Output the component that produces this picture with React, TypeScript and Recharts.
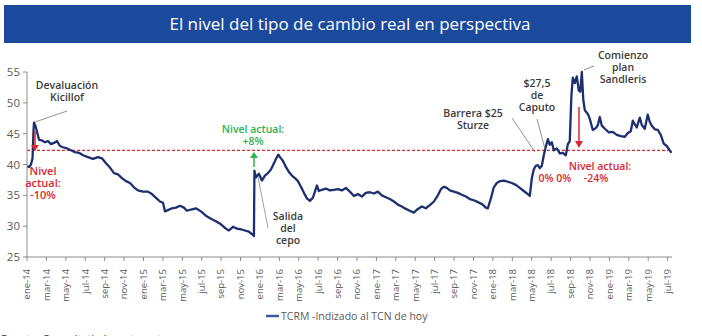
import React from "react";
import { LineChart, Line, XAxis, YAxis, ReferenceLine } from "recharts";

// months since ene-14
const monthT = [
  0.0, 0.21, 0.41, 0.57, 0.67, 0.72, 0.88, 1.03, 1.24, 1.54, 1.85, 2.16, 2.47, 2.78, 3.09, 3.4, 3.71, 4.12, 4.53, 4.94,
  5.36, 5.77, 6.28, 6.8, 7.31, 7.72, 8.14, 8.55, 8.96, 9.37, 9.78, 10.2, 10.61, 11.02, 11.43, 11.95, 12.46, 12.87, 13.29, 13.7,
  14.01, 14.21, 14.52, 14.93, 15.35, 15.76, 16.17, 16.48, 16.89, 17.4, 17.92, 18.43, 18.95, 19.46, 19.98, 20.49, 20.8, 21.22, 21.63, 22.04,
  22.45, 22.86, 23.28, 23.38, 23.43, 23.58, 23.89, 24.2, 24.51, 24.82, 25.13, 25.44, 25.75, 25.9, 26.06, 26.36, 26.67, 26.98, 27.29, 27.6,
  27.91, 28.22, 28.53, 28.84, 29.15, 29.45, 29.66, 29.87, 30.07, 30.38, 30.79, 31.2, 31.62, 32.03, 32.44, 32.85, 33.26, 33.68, 34.09, 34.5,
  34.91, 35.32, 35.74, 36.15, 36.56, 36.97, 37.38, 37.8, 38.21, 38.62, 39.03, 39.44, 39.86, 40.27, 40.68, 41.09, 41.5, 41.92, 42.33, 42.64,
  42.95, 43.25, 43.56, 43.98, 44.39, 44.8, 45.21, 45.62, 46.04, 46.45, 46.86, 47.27, 47.48, 47.79, 48.09, 48.4, 48.71, 49.13, 49.54, 49.95,
  50.36, 50.77, 51.18, 51.6, 51.8, 52.01, 52.21, 52.42, 52.63, 52.83, 53.04, 53.24, 53.45, 53.66, 53.86, 54.07, 54.27, 54.58, 54.89, 55.2,
  55.51, 55.72, 55.92, 56.08, 56.23, 56.44, 56.64, 56.85, 57.0, 57.16, 57.31, 57.47, 57.78, 57.98, 58.29, 58.6, 58.81, 59.01, 59.22, 59.53,
  59.94, 60.35, 60.76, 61.17, 61.59, 61.9, 62.2, 62.41, 62.62, 62.82, 63.13, 63.34, 63.65, 63.95, 64.16, 64.37, 64.68, 64.98, 65.29, 65.6,
  65.91, 66.22, 66.4,
];

// TCRM - indizado al TCN de hoy
const tcrm = [
  39.7, 39.6, 40.0, 41.0, 45.5, 46.8, 46.2, 45.3, 44.0, 43.9, 43.6, 43.8, 43.3, 43.5, 43.8, 43.0, 42.8, 42.6, 42.3, 42.0,
  41.9, 41.5, 41.2, 40.9, 41.2, 41.0, 40.2, 39.5, 38.6, 38.4, 37.8, 37.3, 37.0, 36.3, 35.8, 35.6, 35.6, 35.2, 34.6, 34.0,
  33.8, 32.4, 32.6, 32.9, 33.0, 33.3, 33.0, 32.5, 32.7, 32.9, 32.4, 31.7, 31.2, 30.8, 30.3, 29.6, 29.3, 29.9, 29.6, 29.5,
  29.3, 29.1, 28.6, 28.4, 39.0, 37.9, 38.5, 37.4, 38.2, 38.6, 39.2, 40.2, 41.2, 41.6, 41.2, 40.6, 39.6, 38.8, 38.2, 37.8,
  37.3, 36.4, 35.4, 34.5, 34.1, 34.6, 35.6, 36.6, 35.7, 35.9, 36.1, 35.8, 35.9, 36.0, 35.8, 36.2, 35.6, 34.9, 35.2, 34.8,
  35.4, 35.5, 35.3, 35.6, 35.0, 34.7, 34.4, 34.0, 33.5, 33.2, 32.8, 32.5, 32.2, 32.8, 33.2, 32.9, 33.4, 34.0, 35.0, 36.0,
  36.4, 36.2, 35.8, 35.6, 35.4, 35.1, 34.8, 34.4, 34.2, 33.9, 33.6, 33.0, 32.9, 34.5, 36.3, 37.0, 37.3, 37.4, 37.2, 37.0,
  36.7, 36.2, 35.7, 35.2, 34.9, 37.8, 39.2, 39.8, 39.9, 39.4, 39.8, 41.5, 42.9, 44.1, 43.2, 43.6, 42.3, 42.6, 41.8, 41.9,
  41.5, 43.3, 43.8, 51.0, 54.1, 53.2, 54.3, 52.0, 51.8, 55.0, 50.5, 48.8, 48.2, 47.4, 45.6, 45.9, 46.4, 47.7, 46.3, 45.8,
  45.2, 45.3, 44.8, 44.6, 44.5, 45.1, 45.4, 47.1, 46.5, 46.0, 47.6, 46.4, 45.8, 48.1, 46.9, 46.3, 45.7, 45.6, 44.8, 43.4,
  43.0, 42.3, 41.9,
];

const tickLabels = [
  "ene-14", "mar-14", "may-14", "jul-14", "sep-14", "nov-14",
  "ene-15", "mar-15", "may-15", "jul-15", "sep-15", "nov-15",
  "ene-16", "mar-16", "may-16", "jul-16", "sep-16", "nov-16",
  "ene-17", "mar-17", "may-17", "jul-17", "sep-17", "nov-17",
  "ene-18", "mar-18", "may-18", "jul-18", "sep-18", "nov-18",
  "ene-19", "mar-19", "may-19", "jul-19",
];
const yTicks = [25, 30, 35, 40, 45, 50, 55];
const nivelActual = 42.3;

const data = monthT.map((t, i) => ({ t, v: tcrm[i] }));
const tickPos = tickLabels.map((_, i) => i * 2);

const FONT = "'Open Sans', sans-serif";
const AXIS = "#8c8c8c";
const TXT = "#5a5a5a";
const NAVY = "#1e2f6f";
const RED = "#d9282f";
const GREEN = "#2eb34f";
const DARK = "#3c3c3c";

const RotTick = (props: any) => {
  const { x, y, payload } = props;
  const idx = Math.round(payload.value / 2);
  return (
    <g transform={`translate(${x},${y + 6}) rotate(-90)`}>
      <text x={0} y={0} dy="0.35em" textAnchor="end" fill={TXT} fontSize={9.5} fontFamily={FONT}>
        {tickLabels[idx]}
      </text>
    </g>
  );
};

const ML = ({ x, y, lines, color, size = 10.5 }: any) => (
  <text x={x} y={y} textAnchor="middle" fill={color} fontSize={size} fontWeight={600} fontFamily={FONT}>
    {lines.map((l: string, i: number) => (
      <tspan key={i} x={x} dy={i === 0 ? 0 : 12.2}>
        {l}
      </tspan>
    ))}
  </text>
);

export default function App() {
  return (
    <div style={{ position: "absolute", left: 0, top: 0, width: 702, height: 336, background: "#fff", overflow: "hidden" }}>
      <LineChart width={702} height={336} data={data} margin={{ top: 72, right: 30, left: 0, bottom: 29 }}>
        <XAxis
          dataKey="t"
          type="number"
          domain={[0, 66.45]}
          ticks={tickPos}
          interval={0}
          height={50}
          tick={<RotTick />}
          tickSize={4}
          tickLine={{ stroke: AXIS }}
          axisLine={{ stroke: AXIS }}
          allowDataOverflow
        />
        <YAxis
          domain={[25, 55]}
          ticks={yTicks}
          interval={0}
          width={27}
          tickSize={4}
          tickMargin={3}
          tick={{ fill: TXT, fontSize: 11.5, fontFamily: FONT }}
          tickLine={{ stroke: AXIS }}
          axisLine={{ stroke: AXIS }}
        />
        <ReferenceLine y={nivelActual} stroke={RED} strokeDasharray="3 2" strokeWidth={1.2} />
        <Line
          type="linear"
          dataKey="v"
          stroke={NAVY}
          strokeWidth={2.3}
          strokeLinejoin="round"
          dot={false}
          isAnimationActive={false}
        />
      </LineChart>
      <svg width={702} height={336} style={{ position: "absolute", left: 0, top: 0, pointerEvents: "none" }}>
        <rect x={4} y={5} width={687} height={38} fill="#1b4a9d" />
        <text x={350} y={30} textAnchor="middle" fill="#fff" fontSize={17} fontFamily={FONT}>
          El nivel del tipo de cambio real en perspectiva
        </text>

        {/* Devaluación Kicillof */}
        <ML x={67} y={89} lines={["Devaluación", "Kicillof"]} color={DARK} />
        <line x1={35} y1={122} x2={67} y2={111} stroke="#777" strokeWidth={0.8} />
        <line x1={35} y1={131} x2={35} y2={146} stroke={RED} strokeWidth={1.5} />
        <polygon points="31,145 39,145 35,151" fill={RED} />
        <ML x={43} y={175} lines={["Nivel", "actual:", "-10%"]} color={RED} size={11} />

        {/* Salida del cepo */}
        <ML x={253} y={133} lines={["Nivel actual:", "+8%"]} color={GREEN} />
        <line x1={254} y1={167} x2={254} y2={157} stroke={GREEN} strokeWidth={1.5} />
        <polygon points="250,158 258,158 254,152" fill={GREEN} />
        <line x1={258} y1={177} x2={268} y2={228} stroke="#888" strokeWidth={0.8} />
        <ML x={288} y={220} lines={["Salida", "del", "cepo"]} color={DARK} />

        {/* 2018 */}
        <ML x={473} y={117} lines={["Barrera $25", "Sturze"]} color={DARK} />
        <line x1={512} y1={118} x2={535} y2={152} stroke="#777" strokeWidth={0.8} />
        <ML x={537} y={87} lines={["$27,5", "de", "Caputo"]} color={DARK} />
        <line x1={537} y1={119} x2={545} y2={149} stroke="#777" strokeWidth={0.8} />
        <ML x={623} y={59} lines={["Comienzo", "plan", "Sandleris"]} color={DARK} />
        <line x1={584} y1={70} x2={594} y2={66} stroke="#777" strokeWidth={0.8} />
        <line x1={579} y1={107} x2={579} y2={142} stroke={RED} strokeWidth={1.5} />
        <polygon points="575,141 583,141 579,148" fill={RED} />
        <ML x={600} y={170} lines={["Nivel actual:"]} color={RED} />
        <ML x={555} y={182} lines={["0% 0%"]} color={RED} />
        <ML x={596} y={182} lines={["-24%"]} color={RED} />

        {/* legend */}
        <line x1={266} y1={316} x2={279} y2={316} stroke="#3b5a9e" strokeWidth={2.5} />
        <text x={281} y={320} fill={TXT} fontSize={10.5} fontFamily={FONT}>
          TCRM -Indizado al TCN de hoy
        </text>

        <text x={1} y={343} fill="#333" fontSize={11} fontFamily={FONT}>
          Fuente: Consultatio Investments
        </text>
      </svg>
    </div>
  );
}
